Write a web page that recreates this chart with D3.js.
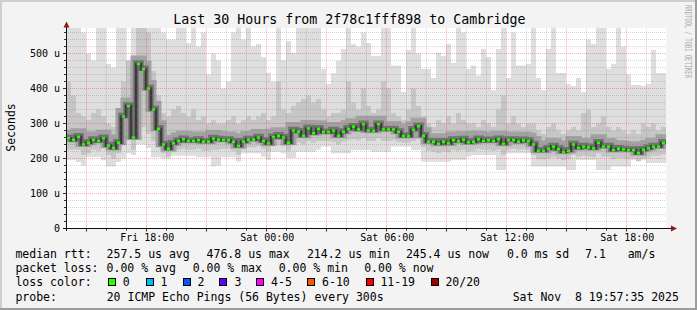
<!DOCTYPE html>
<html><head><meta charset="utf-8">
<script src="https://cdn.jsdelivr.net/npm/d3@7"></script>
<style>
html,body{margin:0;padding:0;background:#f3f3f3;}
svg{display:block;}
text{font-family:"DejaVu Sans Mono",monospace;fill:#000;white-space:pre;}
</style></head><body>
<svg id="c" width="697" height="310"></svg>
<script>
// ---- data (values in microseconds, one value per 15-minute column) ----
const startTime = new Date(2025, 10, 7, 13, 57, 35);
const endTime   = new Date(2025, 10, 8, 19, 57, 35);
const stepMinutes = 15;
const median = [258,253,262,240,245,253,250,258,237,230,
  245,320,350,260,470,455,400,340,285,240,
  228,243,250,255,250,250,253,248,248,257,
  254,253,253,248,236,248,254,254,260,250,
  243,261,265,260,245,280,277,265,286,272,
  285,275,275,280,265,276,285,291,283,298,
  280,279,298,283,283,283,276,264,264,282,
  292,265,248,248,242,248,243,253,249,254,
  246,248,255,250,252,250,255,242,253,253,
  248,252,250,240,222,222,228,234,227,219,
  222,240,230,234,232,229,245,234,234,224,
  228,226,224,224,215,225,229,234,234,245];
const smokeLo = [196,196,190,180,204,204,204,195,177,177,
  190,200,215,210,240,240,230,204,204,200,
  200,208,208,208,208,208,204,204,204,177,
  180,204,204,204,191,215,215,215,215,205,
  196,219,219,215,201,201,219,219,219,219,
  225,234,234,215,215,215,215,224,224,224,
  224,219,219,219,219,234,234,234,234,224,
  224,191,191,191,191,191,191,196,196,196,
  205,210,210,210,210,210,167,167,215,215,
  215,215,215,177,177,177,177,177,177,177,
  167,167,196,196,196,196,167,167,167,177,
  177,177,177,196,196,196,187,187,187,187];
const smokeQ1 = [225,225,225,210,215,225,222,228,210,200,
  215,240,270,225,300,290,270,250,230,215,
  205,218,225,228,225,225,228,222,222,225,
  225,228,228,222,210,225,232,232,235,228,
  220,235,238,235,222,245,245,240,250,245,
  250,250,250,248,240,248,252,255,252,258,
  250,250,258,250,250,252,248,245,245,250,
  255,232,222,220,215,220,218,225,222,225,
  220,222,228,225,225,222,225,210,225,228,
  225,226,224,210,198,198,200,205,200,195,
  198,210,205,208,206,204,215,205,205,198,
  202,200,198,200,192,200,203,208,208,212];
const smokeQ3 = [420,380,330,320,310,330,340,320,300,290,
  330,420,480,400,600,600,560,450,380,330,
  320,340,350,330,320,340,310,320,300,310,
  300,300,310,320,300,310,320,310,320,330,
  310,320,420,340,330,350,360,370,380,360,
  370,340,320,330,330,340,420,360,340,400,
  350,330,340,420,400,330,320,310,340,400,
  350,320,300,290,310,300,320,300,330,310,
  300,300,290,310,300,290,340,380,300,320,
  300,290,300,300,280,270,290,300,280,270,
  280,290,280,330,340,290,300,320,290,280,
  290,280,270,280,270,300,290,300,280,290];
const smokeHi = [600,600,600,560,500,480,600,600,470,460,
  600,600,450,600,600,600,600,600,600,560,
  540,540,600,600,530,600,520,560,440,500,
  480,400,420,560,600,540,600,520,527,490,
  445,420,600,480,535,502,600,600,600,600,
  600,456,413,444,479,513,600,527,520,560,
  530,493,493,600,600,466,466,390,510,600,
  500,456,456,430,502,493,527,473,600,560,
  456,466,437,513,490,395,513,600,430,560,
  466,466,470,600,430,395,513,600,444,444,
  413,407,430,390,540,527,600,600,456,470,
  600,520,440,410,410,407,413,510,444,444];
const yMax = 571.4;
const yTicks = [0,100,200,300,400,500];
const yTickLabels = ["0","100 u","200 u","300 u","400 u","500 u"];
const xTickTimes = [new Date(2025,10,7,18), new Date(2025,10,8,0), new Date(2025,10,8,6), new Date(2025,10,8,12), new Date(2025,10,8,18)];
const xTickLabels = ["Fri 18:00","Sat 00:00","Sat 06:00","Sat 12:00","Sat 18:00"];
const lossLevels = ["0","1","2","3","4-5","6-10","11-19","20/20"];
const lossColors = ["#26ff00","#00b8ff","#0059ff","#5e00ff","#ff00ff","#ff5500","#ff0000","#a00000"];
const titleText = "Last 30 Hours from 2f78c1fff898 to Cambridge";
const statsRtt = [["median rtt:",16],["257.5 us avg",107.2],["476.8 us max",207.2],["214.2 us min",307.5],["245.4 us now",406.5],["0.0 ms sd",507.5],["7.1",585.7],["am/s",628.3]];
const statsLoss = [["packet loss:",16],["0.00 % avg",107.2],["0.00 % max",193.3],["0.00 % min",279.3],["0.00 % now",364.8]];
const probeText = "20 ICMP Echo Pings (56 Bytes) every 300s";
const dateText = "Sat Nov  8 19:57:35 2025";

// ---- drawing ----
const svg = d3.select("#c");
const W = 697, H = 310;
const X0 = 66, X1 = 666, YB = 228.5, YT = 28.5;
const xs = d3.scaleTime().domain([startTime, endTime]).range([X0, X1]);
const ys = d3.scaleLinear().domain([0, yMax]).range([YB, YT]);

// background & frame
svg.append("rect").attr("x",0).attr("y",0).attr("width",W).attr("height",H).attr("fill","#f3f3f3");
svg.append("rect").attr("x",0).attr("y",0).attr("width",W).attr("height",2).attr("fill","#cfcfcf");
svg.append("rect").attr("x",0).attr("y",0).attr("width",2).attr("height",H).attr("fill","#cfcfcf");
svg.append("rect").attr("x",W-2).attr("y",0).attr("width",2).attr("height",H).attr("fill","#9c9c9c");
svg.append("rect").attr("x",0).attr("y",H-2).attr("width",W).attr("height",2).attr("fill","#9c9c9c");

svg.append("defs").append("clipPath").attr("id","pc")
  .append("rect").attr("x",X0).attr("y",28).attr("width",X1-X0).attr("height",YB-28);
svg.append("rect").attr("x",X0).attr("y",28).attr("width",X1-X0).attr("height",YB-28).attr("fill","#fff");

const plot = svg.append("g").attr("clip-path","url(#pc)");
const cols = median.map((m,i) => {
  const t0 = d3.timeMinute.offset(startTime, i*stepMinutes);
  const t1 = d3.timeMinute.offset(startTime, (i+1)*stepMinutes);
  return {i, t0, t1, med:m, lo:smokeLo[i], q1:smokeQ1[i], q3:smokeQ3[i], hi:smokeHi[i]};
});
const cw = d => xs(d.t1) - xs(d.t0);
const cap = v => Math.min(v, yMax + 10);
// light smoke
plot.selectAll("rect.l").data(cols).join("rect")
  .attr("x", d=>xs(d.t0)).attr("width", cw)
  .attr("y", d=>ys(cap(d.hi))).attr("height", d=>ys(d.lo)-ys(cap(d.hi)))
  .attr("fill","#dedede");
// mid smoke
plot.selectAll("rect.m").data(cols).join("rect")
  .attr("x", d=>xs(d.t0)).attr("width", cw)
  .attr("y", d=>ys(cap(d.q3))).attr("height", d=>ys(d.q1)-ys(cap(d.q3)))
  .attr("fill","#c6c6c6");
// inner smoke around median (step path)
const stepPts = cols.map(d=>[xs(d.t0), ys(d.med)]);
stepPts.push([xs(cols[cols.length-1].t1), ys(median[median.length-1])]);
const stepLine = d3.line().curve(d3.curveStepAfter);
plot.append("path").attr("d", stepLine(stepPts.map(p=>[p[0],p[1]-3]))).attr("fill","none")
  .attr("stroke","#a2a2a2").attr("stroke-width",11);
plot.append("path").attr("d", stepLine(stepPts.map(p=>[p[0],p[1]-1]))).attr("fill","none")
  .attr("stroke","#727272").attr("stroke-width",5.5);
plot.append("path").attr("d", stepLine(stepPts)).attr("fill","none")
  .attr("stroke","#3a3a3a").attr("stroke-width",2.5);

// grid
const grid = svg.append("g");
const minorY = d3.range(20, yMax, 20);
minorY.forEach(v => {
  const y = Math.round(ys(v)-0.5)+0.5;
  const major = v % 100 === 0;
  grid.append("line").attr("x1",X0).attr("x2",X1).attr("y1",y).attr("y2",y)
    .attr("stroke", major ? "rgba(255,40,40,0.38)" : "rgba(120,120,120,0.32)")
    .attr("stroke-dasharray","1,1");
});
const hours = d3.timeHour.range(d3.timeHour.ceil(startTime), endTime);
hours.forEach(h => {
  const x = Math.floor(xs(h))+0.5;
  const major = h.getHours() % 3 === 0;
  grid.append("line").attr("x1",x).attr("x2",x).attr("y1",YT).attr("y2",YB)
    .attr("stroke", major ? "rgba(255,40,40,0.38)" : "rgba(120,120,120,0.32)")
    .attr("stroke-dasharray","1,1");
});

// median bars (loss colour 0)
plot.selectAll("rect.g").data(cols).join("rect")
  .attr("x", d=>xs(d.t0)+0.8).attr("width", d=>cw(d)-1.6)
  .attr("y", d=>ys(d.med)-1.3).attr("height", 2.6)
  .attr("fill", lossColors[0]);

// axes
const ax = svg.append("g");
minorY.concat([0]).forEach(v => {
  const y = Math.round(ys(v)-0.5)+0.5;
  const major = v % 100 === 0;
  ax.append("line").attr("x1", major?63:64).attr("x2",66).attr("y1",y).attr("y2",y).attr("stroke","#333");
});
hours.forEach(h => {
  const x = Math.floor(xs(h))+0.5;
  const major = h.getHours() % 3 === 0;
  ax.append("line").attr("x1",x).attr("x2",x).attr("y1",229).attr("y2", major?231.5:230.5).attr("stroke","#333");
});
ax.append("line").attr("x1",63).attr("x2",672).attr("y1",YB).attr("y2",YB).attr("stroke","#111");
ax.append("line").attr("x1",66.5).attr("x2",66.5).attr("y1",231).attr("y2",26).attr("stroke","#111");
ax.append("path").attr("d","M63.5,27.5 L69.5,27.5 L66.5,21.5 Z").attr("fill","#8b1a1a");
ax.append("path").attr("d","M671,225.5 L671,231.5 L677,228.5 Z").attr("fill","#8b1a1a");

// y tick labels
yTicks.forEach((v,i) => {
  svg.append("text").attr("x",60).attr("y", ys(v)+3.6).attr("text-anchor","end")
    .attr("font-size","10px").text(yTickLabels[i]);
});
// x tick labels
xTickTimes.forEach((t,i) => {
  svg.append("text").attr("x", xs(t)+0.5).attr("y",241).attr("text-anchor","middle")
    .attr("font-size","10px").text(xTickLabels[i]);
});

// title
svg.append("text").attr("x",349.3).attr("y",24.3).attr("text-anchor","middle")
  .attr("font-size","13.3px").text(titleText);
// y label
svg.append("text").attr("transform","translate(14.8,127.5) rotate(-90)").attr("text-anchor","middle")
  .attr("font-size","11.5px").text("Seconds");
// watermark
svg.append("text").attr("transform","translate(685.3,5) rotate(90)")
  .attr("font-size","8.5px").attr("textLength",73).attr("lengthAdjust","spacingAndGlyphs")
  .style("fill","#ababab").text("RRDTOOL / TOBI OETIKER");

// legend
const rowY = [257.7, 272, 286.3, 300.7];
const fs = "11.5px";
statsRtt.forEach(([t,x]) => svg.append("text").attr("x",x-0.6).attr("y",rowY[0]).attr("font-size",fs).text(t));
statsLoss.forEach(([t,x]) => svg.append("text").attr("x",x-0.6).attr("y",rowY[1]).attr("font-size",fs).text(t));
svg.append("text").attr("x",15.4).attr("y",rowY[2]).attr("font-size",fs).text("loss color:");
const boxX = [108.3,145.6,182.7,219.3,256.3,307.4,365.6,430.8];
const labX = [123.3,161,198,235,271.7,322.7,381,446];
lossLevels.forEach((l,i) => {
  svg.append("rect").attr("x",Math.round(boxX[i])+0.5).attr("y",278.5).attr("width",7).attr("height",7)
    .attr("fill",lossColors[i]).attr("stroke","#000").attr("stroke-width",1);
  svg.append("text").attr("x",labX[i]-0.6).attr("y",rowY[2]).attr("font-size",fs).text(l);
});
svg.append("text").attr("x",15.4).attr("y",rowY[3]).attr("font-size",fs).text("probe:");
svg.append("text").attr("x",106.7).attr("y",rowY[3]).attr("font-size",fs).text(probeText);
svg.append("text").attr("x",512.7).attr("y",rowY[3]).attr("font-size",fs).text(dateText);
</script>
</body></html>
